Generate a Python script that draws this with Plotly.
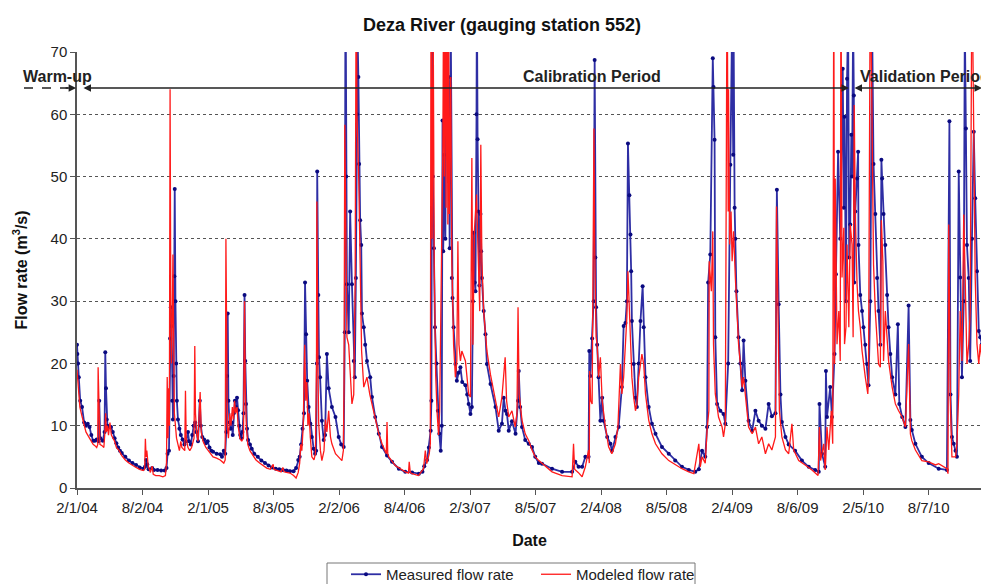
import plotly.graph_objects as go
import pandas as pd

START = pd.Timestamp("2004-02-01")
END_DAY = 2528

# (days since 2004-02-01, flow m3/s)
measured = [
    (0, 23.0), (1, 21.5), (3, 20.0), (5, 17.8), (9, 14.0), (14, 13.0), (20, 10.5), (25, 10.0), (30, 10.3),
    (35, 9.8), (40, 8.5), (45, 7.6), (50, 7.6), (55, 7.8), (60, 7.5), (62, 14.0), (65, 8.0), (72, 7.6),
    (77, 9.0), (79, 21.8), (81, 16.0), (83, 11.0), (85, 10.0), (90, 9.8), (95, 9.8), (100, 9.0), (105, 8.0),
    (110, 7.2), (115, 6.5), (120, 6.0), (125, 5.6), (135, 5.0), (145, 4.4), (155, 4.0), (165, 3.7), (175, 3.3),
    (185, 3.1), (190, 3.4), (193, 4.5), (196, 3.8), (200, 3.0), (210, 3.2), (215, 2.9), (225, 2.9), (235, 2.8),
    (245, 2.8), (250, 3.2), (253, 5.5), (257, 6.0), (260, 24.0), (262, 29.0), (264, 26.0), (266, 14.0),
    (268, 11.0), (270, 18.0), (272, 34.0), (273, 48.0), (275, 30.0), (277, 20.0), (279, 14.0), (282, 11.0),
    (286, 9.5), (290, 8.5), (295, 7.8), (300, 7.0), (305, 7.5), (310, 9.0), (313, 7.5), (318, 7.0), (322, 8.5),
    (326, 10.0), (330, 10.5), (333, 9.0), (338, 7.5), (343, 14.0), (346, 10.0), (350, 8.2), (355, 7.8),
    (360, 7.2), (365, 7.5), (370, 6.5), (375, 6.0), (380, 5.8), (390, 5.5), (400, 5.4), (405, 5.0), (410, 6.0),
    (414, 5.5), (417, 9.0), (419, 18.0), (421, 28.0), (423, 14.0), (426, 10.5), (429, 9.5), (432, 10.5),
    (435, 8.5), (438, 12.0), (441, 14.0), (444, 13.0), (447, 14.5), (450, 12.5), (453, 10.0), (456, 8.5),
    (459, 8.0), (462, 9.0), (465, 12.0), (468, 31.0), (470, 20.4), (472, 13.5), (475, 9.5), (478, 7.7),
    (483, 7.0), (488, 6.3), (495, 5.5), (505, 5.0), (515, 4.4), (525, 4.0), (535, 3.6), (545, 3.3), (555, 3.1),
    (565, 3.0), (575, 2.9), (585, 2.8), (595, 2.7), (605, 2.7), (612, 3.2), (618, 4.5), (622, 5.0), (626, 7.0),
    (630, 9.5), (634, 12.0), (637, 33.0), (640, 24.7), (643, 17.2), (647, 13.0), (652, 10.3), (656, 8.2),
    (661, 6.3), (665, 5.5), (668, 6.0), (670, 20.0), (671, 50.8), (674, 31.0), (676, 21.0), (679, 17.8),
    (684, 10.8), (689, 7.7), (693, 8.5), (698, 21.5), (703, 16.0), (712, 13.0), (722, 11.4), (731, 8.2),
    (738, 7.0), (745, 6.6), (748, 25.0), (750, 85.0), (752, 50.0), (754, 32.7), (759, 25.0), (763, 44.4),
    (768, 32.7), (773, 20.4), (776, 17.8), (779, 33.7), (782, 60.0), (784, 72.0), (786, 66.0), (788, 52.0),
    (791, 43.0), (794, 39.0), (796, 28.0), (801, 25.8), (805, 23.0), (810, 20.4), (819, 17.8), (824, 14.6),
    (833, 11.4), (843, 8.7), (852, 6.6), (866, 5.2), (880, 4.2), (899, 3.1), (917, 2.6), (936, 2.5), (955, 2.3),
    (965, 2.6), (970, 3.5), (978, 4.5), (983, 6.5), (988, 9.2), (990, 14.0), (992, 75.0), (994, 50.0),
    (997, 38.5), (1000, 25.8), (1004, 20.0), (1008, 12.4), (1012, 8.7), (1016, 6.0), (1019, 10.0), (1021, 59.0),
    (1023, 38.0), (1026, 53.5), (1029, 40.0), (1032, 80.0), (1035, 60.0), (1038, 66.0), (1041, 38.5),
    (1044, 75.0), (1047, 33.7), (1049, 30.5), (1052, 25.8), (1057, 19.9), (1061, 17.2), (1066, 18.5),
    (1071, 19.4), (1076, 17.0), (1085, 16.5), (1090, 15.0), (1094, 13.5), (1099, 11.9), (1103, 13.0),
    (1106, 30.0), (1108, 41.0), (1111, 33.0), (1113, 31.6), (1116, 60.0), (1117, 80.0), (1119, 56.0),
    (1121, 44.4), (1124, 32.5), (1127, 44.0), (1129, 38.0), (1131, 33.7), (1136, 28.4), (1141, 24.7),
    (1145, 19.9), (1155, 16.7), (1169, 13.0), (1178, 9.2), (1187, 10.3), (1192, 14.5), (1197, 12.4),
    (1201, 11.9), (1206, 9.2), (1215, 10.7), (1225, 8.7), (1232, 14.0), (1234, 18.8), (1238, 13.0), (1243, 9.8),
    (1252, 7.7), (1262, 7.1), (1271, 6.6), (1280, 5.0), (1290, 4.0), (1299, 3.9), (1327, 3.1), (1355, 2.6),
    (1383, 2.6), (1392, 4.2), (1401, 3.4), (1411, 3.4), (1420, 5.0), (1429, 5.0), (1431, 22.0), (1434, 18.0),
    (1439, 24.0), (1443, 30.0), (1446, 68.7), (1448, 37.0), (1450, 29.0), (1453, 23.0), (1457, 17.8),
    (1462, 10.8), (1467, 14.5), (1471, 10.8), (1481, 8.2), (1490, 7.1), (1494, 6.0), (1504, 8.2), (1513, 9.8),
    (1522, 16.2), (1527, 26.0), (1532, 26.5), (1536, 30.0), (1539, 55.3), (1543, 47.0), (1546, 40.7),
    (1548, 34.8), (1550, 26.8), (1555, 19.9), (1560, 14.5), (1564, 13.0), (1569, 20.0), (1574, 26.8),
    (1580, 32.4), (1583, 25.8), (1588, 17.8), (1597, 13.0), (1606, 10.3), (1616, 8.7), (1634, 6.6), (1653, 5.5),
    (1671, 4.4), (1690, 3.4), (1709, 2.9), (1727, 2.6), (1737, 3.0), (1746, 6.0), (1755, 5.0), (1760, 9.8),
    (1763, 33.0), (1769, 37.5), (1776, 69.0), (1778, 64.4), (1781, 55.9), (1783, 24.2), (1788, 13.5),
    (1797, 12.4), (1806, 11.9), (1811, 10.3), (1819, 20.0), (1825, 51.9), (1830, 75.0), (1833, 53.5),
    (1834, 75.0), (1837, 45.0), (1839, 40.0), (1842, 31.6), (1848, 24.2), (1853, 20.0), (1858, 15.7),
    (1862, 23.7), (1867, 17.2), (1876, 10.8), (1886, 9.2), (1895, 12.4), (1904, 10.8), (1913, 10.0),
    (1923, 9.5), (1932, 13.5), (1941, 11.5), (1951, 12.0), (1955, 47.9), (1960, 29.5), (1965, 15.0),
    (1969, 10.6), (1979, 8.2), (1988, 7.0), (2006, 6.0), (2025, 4.4), (2044, 3.4), (2062, 2.9), (2072, 2.6),
    (2074, 13.5), (2081, 5.5), (2090, 3.4), (2092, 18.8), (2095, 11.4), (2104, 16.2), (2109, 11.4),
    (2116, 21.5), (2120, 34.3), (2126, 54.0), (2132, 40.0), (2139, 67.3), (2142, 45.0), (2144, 59.6),
    (2148, 30.0), (2151, 65.7), (2154, 75.0), (2157, 37.0), (2160, 42.3), (2163, 56.7), (2165, 50.0),
    (2168, 75.0), (2170, 63.0), (2171, 33.0), (2174, 44.4), (2179, 49.7), (2182, 54.0), (2183, 39.0),
    (2188, 31.0), (2193, 28.4), (2197, 25.8), (2202, 23.0), (2207, 19.9), (2211, 16.5), (2216, 30.0),
    (2221, 75.0), (2225, 52.0), (2230, 44.0), (2235, 33.7), (2239, 28.4), (2244, 23.0), (2247, 52.7),
    (2249, 49.7), (2253, 44.0), (2258, 39.0), (2263, 31.0), (2267, 25.8), (2272, 21.5), (2277, 17.8),
    (2286, 15.0), (2293, 26.3), (2297, 13.5), (2305, 11.4), (2314, 9.8), (2323, 29.3), (2328, 10.9),
    (2332, 9.3), (2342, 7.1), (2360, 5.0), (2379, 4.0), (2407, 3.1), (2430, 2.9), (2437, 58.9), (2440, 15.0),
    (2444, 8.2), (2449, 7.1), (2454, 6.0), (2458, 5.0), (2463, 50.8), (2467, 33.8), (2472, 17.8), (2477, 30.0),
    (2480, 75.0), (2483, 57.7), (2486, 39.0), (2491, 33.7), (2495, 20.4), (2500, 40.0), (2505, 57.2),
    (2509, 46.5), (2514, 34.8), (2519, 25.2), (2523, 24.2), (2528, 23.1),
]

modeled = [
    (0, 19.0), (3, 16.0), (8, 13.0), (14, 11.5), (20, 10.0), (25, 9.0), (30, 8.5), (35, 8.0), (40, 7.5),
    (45, 7.0), (50, 6.8), (55, 6.5), (58, 7.0), (59, 19.4), (62, 12.0), (64, 7.0), (70, 6.8), (75, 6.5),
    (78, 9.0), (80, 12.0), (82, 9.0), (85, 10.0), (88, 8.5), (92, 10.5), (96, 8.5), (100, 8.0), (105, 7.5),
    (110, 6.5), (118, 6.0), (125, 5.2), (135, 4.5), (145, 4.0), (155, 3.6), (165, 3.3), (175, 3.0), (185, 2.8),
    (189, 3.0), (191, 7.9), (193, 5.0), (195, 6.0), (199, 3.5), (205, 2.5), (210, 3.5), (213, 2.2), (220, 2.0),
    (230, 2.0), (240, 1.8), (247, 2.0), (250, 4.0), (252, 17.8), (254, 8.0), (256, 16.0), (258, 10.0),
    (260, 64.0), (262, 30.0), (264, 20.0), (266, 26.0), (268, 37.5), (270, 25.0), (272, 12.0), (275, 10.0),
    (278, 8.0), (282, 7.0), (286, 6.0), (290, 7.5), (293, 6.5), (301, 6.0), (303, 15.6), (305, 8.0), (310, 6.5),
    (315, 6.0), (320, 6.5), (327, 8.0), (329, 22.8), (331, 12.0), (334, 9.0), (338, 7.5), (344, 15.4),
    (347, 9.0), (352, 7.5), (360, 6.5), (370, 5.8), (380, 5.0), (390, 4.8), (400, 4.5), (410, 4.0), (414, 4.5),
    (416, 40.0), (418, 20.0), (420, 10.0), (423, 8.0), (427, 12.0), (430, 10.0), (434, 13.0), (437, 11.0),
    (440, 14.0), (443, 12.0), (447, 13.0), (450, 10.0), (455, 8.0), (460, 7.5), (465, 8.0), (468, 30.0),
    (470, 16.0), (473, 10.0), (477, 7.0), (483, 6.0), (490, 5.3), (500, 4.5), (510, 4.0), (520, 3.6),
    (530, 3.2), (540, 3.0), (548, 3.8), (550, 3.0), (560, 2.8), (570, 2.6), (575, 3.3), (578, 2.6), (585, 2.5),
    (595, 2.4), (605, 2.0), (612, 1.6), (618, 2.5), (622, 4.0), (625, 7.0), (628, 6.0), (632, 10.0),
    (636, 23.0), (639, 14.0), (642, 17.0), (645, 10.0), (648, 12.0), (652, 8.0), (656, 5.0), (662, 4.5),
    (666, 5.5), (669, 20.0), (670, 46.0), (673, 20.0), (675, 10.5), (680, 6.0), (684, 4.4), (690, 6.0),
    (694, 11.0), (698, 9.0), (703, 12.4), (708, 8.2), (712, 7.1), (722, 5.5), (731, 5.0), (740, 4.4),
    (744, 6.0), (746, 16.7), (748, 58.3), (751, 40.0), (754, 24.2), (759, 23.0), (764, 17.8), (768, 13.5),
    (773, 15.0), (777, 33.7), (780, 85.0), (782, 60.0), (787, 49.7), (791, 33.7), (795, 22.0), (801, 16.2),
    (810, 17.8), (818, 15.0), (824, 13.5), (833, 10.9), (843, 8.7), (852, 7.1), (864, 5.5), (866, 10.6),
    (868, 5.5), (871, 5.0), (889, 3.6), (917, 2.6), (926, 2.4), (928, 4.2), (931, 2.5), (936, 2.3), (954, 2.0),
    (968, 3.1), (973, 6.0), (977, 3.9), (984, 5.5), (987, 7.1), (989, 85.0), (992, 40.0), (995, 75.0),
    (998, 35.0), (1002, 18.0), (1006, 12.0), (1010, 8.5), (1013, 12.4), (1016, 27.4), (1019, 36.4),
    (1022, 55.0), (1024, 80.0), (1026, 50.0), (1029, 80.0), (1031, 45.0), (1033, 80.0), (1036, 42.3),
    (1038, 80.0), (1040, 44.0), (1044, 66.0), (1047, 36.4), (1052, 23.0), (1057, 17.8), (1061, 20.4),
    (1064, 39.6), (1067, 23.0), (1071, 20.4), (1075, 22.0), (1085, 20.4), (1094, 15.1), (1099, 14.6),
    (1103, 53.0), (1106, 23.0), (1110, 41.2), (1116, 47.1), (1121, 36.4), (1125, 28.4), (1128, 55.1),
    (1131, 36.4), (1136, 28.4), (1145, 22.0), (1155, 18.2), (1168, 14.0), (1178, 11.4), (1187, 14.6),
    (1196, 21.0), (1200, 14.0), (1206, 11.4), (1215, 12.4), (1224, 9.8), (1229, 12.0), (1232, 29.0),
    (1235, 15.1), (1243, 10.9), (1252, 8.7), (1262, 7.6), (1271, 6.1), (1280, 5.0), (1290, 4.4), (1299, 4.0),
    (1327, 2.6), (1355, 2.0), (1383, 1.8), (1387, 7.1), (1390, 3.0), (1400, 2.5), (1411, 1.8), (1420, 3.4),
    (1425, 5.0), (1429, 6.1), (1431, 4.0), (1432, 18.8), (1435, 14.0), (1439, 13.5), (1444, 57.7),
    (1446, 39.0), (1450, 24.2), (1453, 23.1), (1457, 17.8), (1462, 21.0), (1467, 14.0), (1476, 9.8),
    (1485, 6.6), (1494, 5.5), (1504, 7.1), (1511, 9.8), (1518, 19.9), (1522, 15.1), (1527, 17.8), (1532, 23.1),
    (1536, 27.4), (1539, 34.8), (1543, 28.4), (1546, 23.1), (1550, 17.8), (1555, 14.6), (1560, 12.4),
    (1564, 13.5), (1569, 17.8), (1574, 19.9), (1578, 21.5), (1583, 19.9), (1588, 15.1), (1597, 10.9),
    (1606, 8.7), (1616, 7.1), (1634, 5.5), (1653, 4.4), (1671, 3.7), (1690, 3.1), (1709, 2.6), (1723, 2.3),
    (1737, 7.1), (1741, 3.4), (1746, 5.0), (1755, 4.0), (1760, 9.3), (1765, 12.4), (1766, 36.4), (1772, 31.6),
    (1776, 41.2), (1778, 23.1), (1783, 15.1), (1792, 11.4), (1802, 9.8), (1806, 8.2), (1811, 10.3),
    (1816, 85.0), (1819, 44.4), (1820, 64.0), (1823, 39.1), (1827, 44.4), (1830, 36.4), (1834, 41.2),
    (1839, 33.8), (1842, 29.5), (1848, 23.1), (1853, 19.9), (1858, 16.2), (1862, 17.8), (1867, 14.6),
    (1876, 9.8), (1886, 8.7), (1895, 9.8), (1904, 7.1), (1913, 8.2), (1923, 5.5), (1932, 7.1), (1941, 6.1),
    (1951, 8.2), (1954, 45.2), (1958, 25.8), (1962, 12.4), (1969, 8.2), (1979, 6.1), (1988, 5.5), (1997, 10.3),
    (2002, 6.1), (2016, 4.4), (2034, 3.7), (2053, 2.9), (2070, 2.0), (2074, 9.8), (2077, 4.4), (2086, 7.1),
    (2090, 2.9), (2095, 9.8), (2100, 6.1), (2107, 12.4), (2111, 7.1), (2114, 85.0), (2116, 19.9), (2118, 49.7),
    (2123, 23.1), (2128, 28.4), (2132, 20.4), (2134, 85.0), (2137, 33.8), (2142, 41.8), (2144, 23.1),
    (2148, 25.8), (2151, 39.1), (2156, 25.8), (2160, 42.3), (2165, 39.1), (2168, 24.2), (2171, 61.5),
    (2174, 44.4), (2179, 32.7), (2183, 28.4), (2188, 25.8), (2193, 22.0), (2197, 19.9), (2202, 17.8),
    (2209, 15.1), (2211, 17.8), (2216, 85.0), (2221, 49.7), (2225, 35.9), (2230, 28.4), (2235, 23.1),
    (2239, 19.9), (2244, 19.4), (2247, 43.0), (2251, 36.4), (2253, 20.4), (2258, 28.4), (2263, 24.2),
    (2267, 20.4), (2277, 16.2), (2286, 13.5), (2295, 12.4), (2305, 11.4), (2314, 9.8), (2323, 23.1),
    (2328, 8.7), (2332, 7.6), (2342, 6.1), (2360, 4.4), (2379, 4.2), (2398, 3.7), (2407, 3.9), (2430, 3.1),
    (2433, 2.3), (2435, 42.3), (2440, 12.4), (2444, 5.0), (2454, 5.0), (2458, 7.1), (2463, 15.1), (2467, 28.4),
    (2472, 20.4), (2477, 43.9), (2481, 33.8), (2486, 19.9), (2491, 23.1), (2495, 28.4), (2500, 85.0),
    (2505, 49.7), (2509, 33.8), (2514, 23.1), (2519, 19.9), (2523, 23.1), (2528, 20.4),
]

tick_dates = ["2004-02-01", "2004-08-02", "2005-02-01", "2005-08-03", "2006-02-02", "2006-08-04",
              "2007-02-03", "2007-08-05", "2008-02-04", "2008-08-05", "2009-02-04", "2009-08-06",
              "2010-02-05", "2010-08-07"]
tick_labels = ["2/1/04", "8/2/04", "2/1/05", "8/3/05", "2/2/06", "8/4/06", "2/3/07", "8/5/07",
               "2/4/08", "8/5/08", "2/4/09", "8/6/09", "2/5/10", "8/7/10"]

measured_day = [p[0] for p in measured]
measured_flow = [p[1] for p in measured]
modeled_day = [p[0] for p in modeled]
modeled_flow = [p[1] for p in modeled]


def to_dates(days):
    return [START + pd.Timedelta(days=d) for d in days]


FONT = "Liberation Sans, Arial, sans-serif"
# page body has an 8px margin; figure is sized so it ends at the window edge
OFF = 8
W, H = 989 - OFF, 584 - OFF
PL, PR, PT, PB = 77, 982, 52, 488   # plot area in window pixels
PW, PH = PR - PL, PB - PT


def px_x(px):
    return (px - PL) / PW


def px_y(py):
    return (PB - py) / PH


fig = go.Figure()
fig.add_trace(go.Scatter(
    x=to_dates(measured_day), y=measured_flow, mode="lines+markers",
    name="Measured flow rate",
    line=dict(color="#2e2ea4", width=1.8),
    marker=dict(color="#0a0a80", size=4),
))
fig.add_trace(go.Scatter(
    x=to_dates(modeled_day), y=modeled_flow, mode="lines",
    name="Modeled flow rate",
    line=dict(color="#ff1a1a", width=1.3),
))

ypos = px_y(88)
label_y = px_y(76)
lab_font = dict(size=16, color="#222")
ann = [
    dict(text="<b>Warm-up</b>", xref="paper", yref="paper", x=px_x(57), y=label_y,
         showarrow=False, font=lab_font, xanchor="center", yanchor="middle"),
    dict(text="", xref="paper", yref="paper", x=-0.001, y=ypos, ax=-12, ay=0,
         showarrow=True, arrowhead=2, arrowsize=1, arrowwidth=1.5, arrowcolor="#222"),
    dict(text="<b>Calibration Period</b>", xref="paper", yref="paper", x=px_x(592), y=label_y,
         showarrow=False, font=lab_font, xanchor="center", yanchor="middle"),
    dict(text="", xref="paper", yref="paper", x=px_x(849), y=ypos, ax=82 - 849, ay=0,
         showarrow=True, arrowhead=2, arrowsize=1, arrowwidth=1.5, arrowcolor="#222",
         arrowside="end+start"),
    dict(text="<b>Validation Period</b>", xref="paper", yref="paper", x=px_x(925), y=label_y,
         showarrow=False, font=lab_font, xanchor="center", yanchor="middle"),
    dict(text="", xref="paper", yref="paper", x=1.0, y=ypos, ax=852 - 981, ay=0,
         showarrow=True, arrowhead=2, arrowsize=1, arrowwidth=1.5, arrowcolor="#222",
         arrowside="end+start"),
]

shapes = [
    dict(type="line", xref="paper", yref="paper", x0=px_x(24), x1=px_x(68), y0=ypos, y1=ypos,
         line=dict(color="#222", width=1.5, dash="dash")),
    dict(type="line", xref="paper", yref="paper", x0=1, x1=1, y0=0, y1=1,
         line=dict(color="#9a9a9a", width=1.5)),
    # legend frame
    dict(type="rect", xref="paper", yref="paper", x0=px_x(327), x1=px_x(695), y0=px_y(563), y1=px_y(600),
         line=dict(color="#777", width=1), fillcolor="rgba(0,0,0,0)"),
]

fig.update_layout(
    width=W, height=H,
    margin=dict(l=PL - OFF, r=W - (PR - OFF), t=PT - OFF, b=H - (PB - OFF), autoexpand=False),
    paper_bgcolor="white", plot_bgcolor="white",
    font=dict(family=FONT, color="#222", size=15),
    title=dict(text="<b>Deza River (gauging station 552)</b>", font=dict(size=18, color="#111"),
               xref="container", x=(502 - OFF) / W, xanchor="center",
               yref="container", y=1 - (25 - OFF) / H, yanchor="middle"),
    showlegend=True,
    legend=dict(orientation="h", xref="paper", yref="paper", x=px_x(346), y=px_y(558),
                xanchor="left", yanchor="top", borderwidth=0,
                font=dict(size=15, color="#222"), itemwidth=30, entrywidth=145,
                bgcolor="rgba(0,0,0,0)"),
    annotations=ann,
    shapes=shapes,
)

fig.update_xaxes(
    type="date", range=[START, START + pd.Timedelta(days=END_DAY)],
    tickvals=tick_dates, ticktext=tick_labels,
    ticks="outside", ticklen=5, tickcolor="#555", tickwidth=1,
    showline=True, linecolor="#555", linewidth=1.5, showgrid=False, zeroline=False,
    tickfont=dict(size=15, color="#222"),
    title=dict(text="<b>Date</b>", font=dict(size=16, color="#111"), standoff=20),
)
fig.update_yaxes(
    range=[0, 70], dtick=10, tick0=0,
    ticks="outside", ticklen=5, tickcolor="#555", tickwidth=1,
    showline=True, linecolor="#555", linewidth=1.5,
    showgrid=True, gridcolor="#555", griddash="dot", gridwidth=1, zeroline=False,
    tickfont=dict(size=15, color="#222"),
    title=dict(text="<b>Flow rate (m<sup>3</sup>/s)</b>", font=dict(size=16, color="#111"), standoff=19),
)

fig.write_html("out.html")
